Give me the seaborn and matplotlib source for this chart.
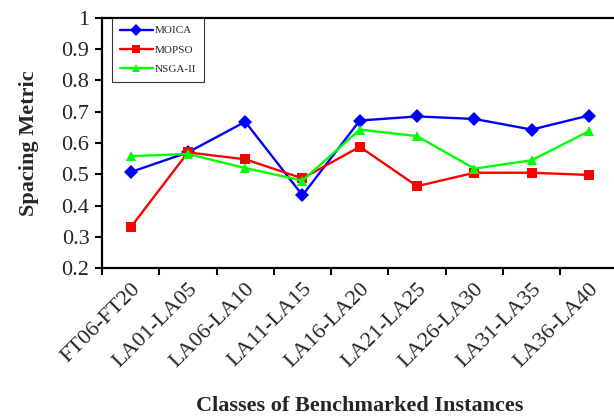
import numpy as np
import pandas as pd
import matplotlib
matplotlib.use("Agg")
import matplotlib.pyplot as plt
import seaborn as sns
from matplotlib.ticker import FixedLocator

# data
classes = ["FT06-FT20", "LA01-LA05", "LA06-LA10", "LA11-LA15", "LA16-LA20",
           "LA21-LA25", "LA26-LA30", "LA31-LA35", "LA36-LA40"]
moica = [0.507, 0.570, 0.668, 0.433, 0.672, 0.685, 0.677, 0.643, 0.688]
mopso = [0.330, 0.570, 0.548, 0.487, 0.588, 0.462, 0.505, 0.505, 0.498]
nsga2 = [0.558, 0.565, 0.520, 0.480, 0.643, 0.622, 0.518, 0.545, 0.638]

df = pd.DataFrame({
    "cls": classes * 3,
    "val": moica + mopso + nsga2,
    "alg": ["MOICA"] * 9 + ["MOPSO"] * 9 + ["NSGA-II"] * 9,
})

sns.set_style("white")
plt.rcParams["font.family"] = ["Liberation Serif", "DejaVu Serif"]

fig = plt.figure(figsize=(6.14, 4.17), dpi=100)
ax = fig.add_axes([0.166, 0.357, 0.84, 0.600])

sns.lineplot(data=df, x="cls", y="val", hue="alg", style="alg",
             palette={"MOICA": "#0000FF", "MOPSO": "#FF0000", "NSGA-II": "#00FF00"},
             markers={"MOICA": "D", "MOPSO": "s", "NSGA-II": "^"},
             dashes=False, sort=False, linewidth=1.7, markersize=7.5,
             markeredgewidth=0, ax=ax)

ax.set_xlim(-0.5, 8.5)
ax.set_ylim(0.2, 1.0)
ax.set_yticks(np.arange(0.2, 1.01, 0.1))
ax.set_yticklabels(["0.2", "0.3", "0.4", "0.5", "0.6", "0.7", "0.8", "0.9", "1"])
ax.set_xticks(range(len(classes)))
ax.set_xticklabels(classes, rotation=45, ha="right", rotation_mode="anchor")
ax.xaxis.set_minor_locator(FixedLocator(np.arange(-0.5, 9, 1.0)))
ax.tick_params(axis="x", which="major", length=0, labelsize=16, pad=8)
ax.tick_params(axis="x", which="minor", length=5, width=1.5, direction="out",
               bottom=True, color="black")
ax.tick_params(axis="y", length=5, width=1.5, direction="out", left=True,
               labelsize=16, color="black", pad=4)

for s in ax.spines.values():
    s.set_color("black")
    s.set_linewidth(1.6)

ax.set_xlabel("Classes of Benchmarked Instances", fontsize=16, fontweight="bold", labelpad=18)
ax.set_ylabel("Spacing Metric", fontsize=16, fontweight="bold", labelpad=16)

leg = ax.legend(loc="upper left", bbox_to_anchor=(0.019, 1.0), fontsize=8,
                frameon=True, fancybox=False, handlelength=3.0,
                borderpad=0.7, labelspacing=0.85, handletextpad=0.2,
                borderaxespad=0, markerscale=0.8)
leg.get_frame().set_edgecolor("black")
leg.get_frame().set_linewidth(0.8)

fig.savefig("out.png", dpi=100)
